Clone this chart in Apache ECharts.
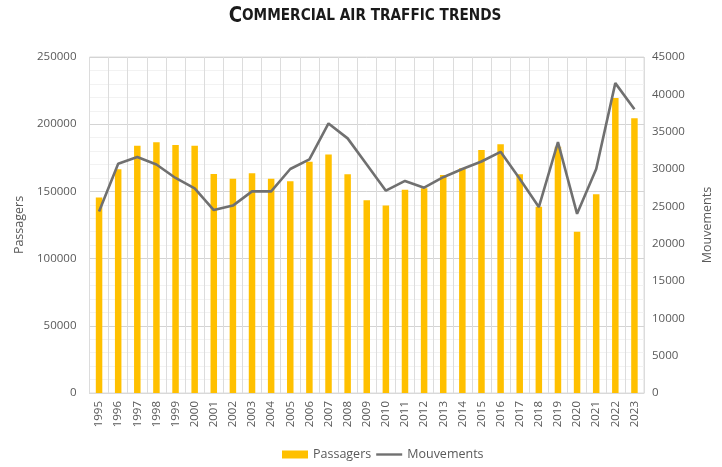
<!DOCTYPE html>
<html>
<head>
<meta charset="utf-8">
<script src="https://cdn.jsdelivr.net/npm/echarts@6/dist/echarts.min.js"></script>
<style>
html,body{margin:0;padding:0;background:#fff;}
#c{width:722px;height:467px;}
</style>
</head>
<body>
<div id="c"></div>
<script>
const years = ['1995','1996','1997','1998','1999','2000','2001','2002','2003','2004','2005','2006','2007','2008','2009','2010','2011','2012','2013','2014','2015','2016','2017','2018','2019','2020','2021','2022','2023'];
const passagers = [145500,166500,184000,186500,184500,184000,163000,159500,163500,159500,157500,172000,177500,162700,143500,139500,151300,152300,162200,167200,180800,185000,162700,138600,183300,120000,147800,219500,204400];
const mouvements = [24300,30700,31600,30600,28800,27400,24500,25100,27000,27000,30000,31300,36100,34100,30600,27100,28400,27500,28900,30000,31000,32300,28700,24900,33600,24000,30000,41500,38000];
const leftTicks = {min:0, max:250000, interval:50000};
const rightTicks = {min:0, max:45000, interval:5000};

const chart = echarts.init(document.getElementById('c'));
const fam = '"Open Sans", "DejaVu Sans", sans-serif';
const labelFont = {color:'#595959', fontSize:11.5, fontFamily:fam, formatter:function(v){return String(v);}};
const titleFam = '"DejaVu Sans Condensed", "Liberation Sans Narrow", sans-serif';
chart.setOption({
  animation:false,
  backgroundColor:'#fff',
  graphic:[{
    type:'text', x:365, y:5, scaleX:0.92,
    style:{
      text:'{a|C}{b|OMMERCIAL AIR TRAFFIC TRENDS}',
      align:'center',
      rich:{
        a:{fontFamily:titleFam, fontWeight:'bold', fontSize:22, fill:'#1a1a1a'},
        b:{fontFamily:titleFam, fontWeight:'bold', fontSize:16.5, fill:'#1a1a1a'}
      }
    }
  }],
  grid:{left:89.5, right:74.5, top:57, bottom:74, show:true, borderColor:'#dcdcdc', borderWidth:1},
  legend:{
    bottom:1, left:277, itemGap:5,
    textStyle:{color:'#595959', fontSize:12.5, fontFamily:fam},
    data:[
      {name:'Passagers', icon:'rect', itemStyle:{color:'#FFC000'}},
      {name:'Mouvements', icon:'path://M0 0 L26 0 L26 2.4 L0 2.4 Z', itemStyle:{color:'#707070'}}
    ],
    itemWidth:26, itemHeight:8
  },
  xAxis:{
    type:'category', data:years, boundaryGap:true,
    axisLine:{show:true, lineStyle:{color:'#d9d9d9'}},
    axisTick:{show:false},
    axisLabel:{rotate:90, interval:0, margin:8, color:'#595959', fontSize:11.5, fontFamily:fam},
    splitLine:{show:true, interval:0, lineStyle:{color:'#dcdcdc', width:1}}
  },
  yAxis:[
    {
      type:'value', min:leftTicks.min, max:leftTicks.max, interval:leftTicks.interval,
      name:'Passagers', nameLocation:'middle', nameGap:62, nameRotate:90,
      nameTextStyle:{color:'#595959', fontSize:12.5, fontFamily:fam},
      axisLine:{show:false}, axisTick:{show:false},
      axisLabel:Object.assign({margin:13}, labelFont),
      splitLine:{show:true, lineStyle:{color:'#d4d4d4'}},
      minorTick:{show:false, splitNumber:5},
      minorSplitLine:{show:true, lineStyle:{color:'#f2f2f2'}}
    },
    {
      type:'value', min:rightTicks.min, max:rightTicks.max, interval:rightTicks.interval,
      name:'Mouvements', nameLocation:'middle', nameGap:57, nameRotate:90,
      nameTextStyle:{color:'#595959', fontSize:12.5, fontFamily:fam},
      axisLine:{show:false}, axisTick:{show:false},
      axisLabel:Object.assign({margin:8}, labelFont),
      splitLine:{show:false}
    }
  ],
  series:[
    {name:'Passagers', type:'bar', data:passagers, yAxisIndex:0, barWidth:6.5,
     itemStyle:{color:'#FFC000'}},
    {name:'Mouvements', type:'line', data:mouvements, yAxisIndex:1, showSymbol:false, symbol:'none',
     lineStyle:{color:'#707070', width:2.6}, itemStyle:{color:'#707070'}}
  ]
});
</script>
</body>
</html>
